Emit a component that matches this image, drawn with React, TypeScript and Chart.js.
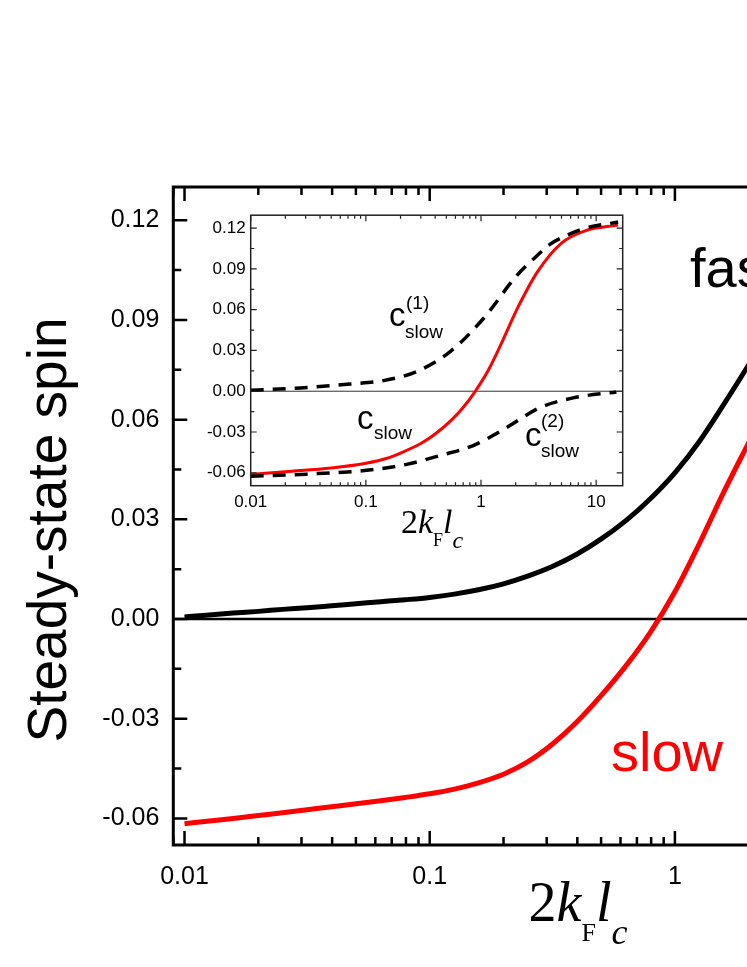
import React, { useEffect, useRef } from "react";
import { Chart, registerables } from "chart.js";

Chart.register(...registerables);

const SANS = "'Liberation Sans', Arial, sans-serif";
const SERIF = "'Liberation Serif', 'Times New Roman', serif";

// ---------- main panel data ----------
const mainX = [0.01, 0.0126, 0.0158, 0.02, 0.0251, 0.0316, 0.0398, 0.0501, 0.0631, 0.0794, 0.1, 0.126, 0.158, 0.2, 0.251, 0.316, 0.398, 0.501, 0.631, 0.794, 1.0, 1.26, 1.58, 2.0, 2.51, 3.16, 3.98, 6.31, 10, 15.8];
const mainFastY = [0.0006, 0.0012, 0.0018, 0.0023, 0.0029, 0.0034, 0.004, 0.0046, 0.0052, 0.0058, 0.0065, 0.0075, 0.0088, 0.0106, 0.0129, 0.0158, 0.0195, 0.0241, 0.0296, 0.0362, 0.044, 0.0535, 0.0645, 0.0765, 0.0885, 0.0985, 0.106, 0.115, 0.119, 0.121];
const mainSlowY = [-0.0616, -0.0608, -0.06, -0.0591, -0.0583, -0.0574, -0.0565, -0.0556, -0.0547, -0.0537, -0.0526, -0.0512, -0.0493, -0.0467, -0.043, -0.0377, -0.031, -0.0230, -0.0141, -0.004, 0.0082, 0.0228, 0.0381, 0.0531, 0.0675, 0.081, 0.092, 0.107, 0.115, 0.119];

// ---------- inset data ----------
const insetSlowX = [0.01, 0.02, 0.05, 0.1, 0.15, 0.2, 0.3, 0.4, 0.55, 0.7, 0.9, 1.15, 1.5, 2.1, 3.1, 5.0, 8.0, 15.5];
const insetSlowY = [-0.0613, -0.0592, -0.0565, -0.053, -0.0495, -0.0455, -0.0385, -0.0315, -0.0215, -0.012, 0.0005, 0.015, 0.035, 0.062, 0.088, 0.109, 0.118, 0.1222];
const insetC1X = [0.01, 0.027, 0.073, 0.142, 0.276, 0.537, 1.045, 2.04, 3.0, 3.96, 5.5, 7.7, 15.5];
const insetC1Y = [0.0007, 0.0024, 0.0053, 0.0078, 0.0145, 0.029, 0.0533, 0.085, 0.099, 0.108, 0.1145, 0.1195, 0.1245];
const insetC2X = [0.01, 0.0306, 0.1016, 0.226, 0.44, 0.855, 1.67, 3.24, 6.3, 15.0];
const insetC2Y = [-0.0625, -0.061, -0.0582, -0.0538, -0.0473, -0.04, -0.0267, -0.0121, -0.0049, -0.0005];

// ---------- ticks ----------
const yTickValues = [-0.06, -0.03, 0, 0.03, 0.06, 0.09, 0.12];
const xTickValues = [0.01, 0.1, 1, 10];

const MAIN_W = 1000;
const MAIN_H = 967;
const INSET_LEFT = 180;
const INSET_TOP = 200;
const INSET_W = 460;
const INSET_H = 360;

const toPts = (xs: number[], ys: number[]) => xs.map((x, i) => ({ x, y: ys[i] }));

const framePlugin = {
  id: "frame",
  beforeDraw(chart: any, _a: any, opts: any) {
    if (!opts.whiteFill) return;
    const { ctx, chartArea } = chart;
    ctx.save();
    ctx.fillStyle = "#fff";
    ctx.fillRect(chartArea.left, chartArea.top, chartArea.right - chartArea.left, chartArea.bottom - chartArea.top);
    ctx.restore();
  },
  beforeDatasetsDraw(chart: any, _a: any, opts: any) {
    const { ctx, chartArea, scales } = chart;
    const y0 = scales.y.getPixelForValue(0);
    ctx.save();
    ctx.strokeStyle = opts.zeroColor;
    ctx.lineWidth = opts.zeroWidth;
    ctx.beginPath();
    ctx.moveTo(chartArea.left, y0);
    ctx.lineTo(chartArea.right, y0);
    ctx.stroke();
    ctx.restore();
  },
  afterDatasetsDraw(chart: any, _a: any, opts: any) {
    const { ctx, chartArea, scales } = chart;
    const { left, right, top, bottom } = chartArea;
    const xs = scales.x;
    const ys = scales.y;
    ctx.save();
    ctx.strokeStyle = opts.color;
    ctx.lineWidth = opts.tickWidth;
    ctx.beginPath();
    const lo = Math.floor(Math.log10(xs.min));
    const hi = Math.ceil(Math.log10(xs.max));
    for (let d = lo; d <= hi; d++) {
      for (let m = 1; m <= 9; m++) {
        const v = m * Math.pow(10, d);
        if (v < xs.min || v > xs.max) continue;
        const px = xs.getPixelForValue(v);
        const len = m === 1 ? opts.majorLen : opts.minorLen;
        ctx.moveTo(px, bottom);
        ctx.lineTo(px, bottom - len);
        ctx.moveTo(px, top);
        ctx.lineTo(px, top + len);
      }
    }
    const step = 0.03;
    for (let k = -10; k <= 10; k++) {
      const pairs: [number, number][] = [[k * step, opts.majorLen], [k * step + step / 2, opts.minorLen]];
      pairs.forEach(([v, len]) => {
        if (v < ys.min || v > ys.max) return;
        const py = ys.getPixelForValue(v);
        ctx.moveTo(left, py);
        ctx.lineTo(left + len, py);
        ctx.moveTo(right, py);
        ctx.lineTo(right - len, py);
      });
    }
    ctx.stroke();
    ctx.lineWidth = opts.frameWidth;
    ctx.strokeRect(left, top, right - left, bottom - top);
    ctx.restore();
  },
};

type Run = { text: string; font: string; dy?: number };
type TextItem = {
  text?: string;
  runs?: Run[];
  x: number;
  y: number;
  font?: string;
  color?: string;
  rotate?: number;
  align?: CanvasTextAlign;
};

const textPlugin = {
  id: "texts",
  afterDraw(chart: any, _a: any, opts: any) {
    const { ctx } = chart;
    (opts.items as TextItem[]).forEach((it) => {
      ctx.save();
      ctx.fillStyle = it.color || "#000";
      ctx.textBaseline = "alphabetic";
      if (it.runs) {
        let total = 0;
        it.runs.forEach((r) => {
          ctx.font = r.font;
          total += ctx.measureText(r.text).width;
        });
        let x = it.x - total / 2;
        ctx.textAlign = "left";
        it.runs.forEach((r) => {
          ctx.font = r.font;
          ctx.fillText(r.text, x, it.y + (r.dy || 0));
          x += ctx.measureText(r.text).width;
        });
      } else {
        ctx.font = it.font;
        ctx.textAlign = it.align || "left";
        ctx.translate(it.x, it.y);
        if (it.rotate) ctx.rotate(it.rotate);
        ctx.fillText(it.text, 0, 0);
      }
      ctx.restore();
    });
  },
};

function titleRuns(big: number, sub1: number, sub2: number, d1: number, d2: number): Run[] {
  return [
    { text: "2", font: `${big}px ${SERIF}` },
    { text: "k", font: `italic ${big}px ${SERIF}` },
    { text: "F", font: `${sub1}px ${SERIF}`, dy: d1 },
    { text: "l", font: `italic ${big}px ${SERIF}` },
    { text: "c", font: `italic ${sub2}px ${SERIF}`, dy: d2 },
  ];
}

function mainLabels(): TextItem[] {
  return [
    { text: "Steady-state spin", x: 66, y: 530, font: `55px ${SANS}`, rotate: -Math.PI / 2, align: "center" },
    { text: "fast", x: 690, y: 287, font: `56px ${SANS}` },
    { text: "slow", x: 611, y: 771, font: `56px ${SANS}`, color: "#ff0000" },
    { runs: titleRuns(56, 26, 36, 20, 23), x: 578, y: 921 },
  ];
}

function insetLabels(): TextItem[] {
  const o = (x: number, y: number) => ({ x: x - INSET_LEFT, y: y - INSET_TOP });
  const big = `33px ${SANS}`;
  const small = `19px ${SANS}`;
  return [
    { text: "c", ...o(389, 326), font: big },
    { text: "(1)", ...o(406, 309), font: small },
    { text: "slow", ...o(405, 338), font: small },
    { text: "c", ...o(357, 429), font: big },
    { text: "slow", ...o(374, 439), font: small },
    { text: "c", ...o(525, 446), font: big },
    { text: "(2)", ...o(541, 427), font: small },
    { text: "slow", ...o(541, 457), font: small },
    { runs: titleRuns(34, 18, 24, 13, 15), ...o(432, 533) },
  ];
}

function axisScales(opts: {
  xmin: number; xmax: number; ymin: number; ymax: number;
  font: number; xPad: number; yPad: number; yWidth: number; xHeight: number;
}) {
  return {
    x: {
      type: "logarithmic",
      min: opts.xmin,
      max: opts.xmax,
      grid: { display: false, drawTicks: false },
      border: { display: false },
      ticks: {
        color: "#000",
        font: { family: SANS, size: opts.font },
        padding: opts.xPad,
        autoSkip: false,
        maxRotation: 0,
        callback: (v: any) => String(v),
      },
      afterBuildTicks: (s: any) => {
        s.ticks = xTickValues.map((v) => ({ value: v }));
      },
      afterFit: (s: any) => {
        s.height = opts.xHeight;
      },
    },
    y: {
      type: "linear",
      min: opts.ymin,
      max: opts.ymax,
      grid: { display: false, drawTicks: false },
      border: { display: false },
      ticks: {
        color: "#000",
        font: { family: SANS, size: opts.font },
        padding: opts.yPad,
        callback: (v: any) => Number(v).toFixed(2),
      },
      afterBuildTicks: (s: any) => {
        s.ticks = yTickValues.map((v) => ({ value: v }));
      },
      afterFit: (s: any) => {
        s.width = opts.yWidth;
      },
    },
  };
}

const lineDs = (xs: number[], ys: number[], color: string, width: number, dash?: number[]) => ({
  data: toPts(xs, ys),
  borderColor: color,
  borderWidth: width,
  borderDash: dash || [],
  pointRadius: 0,
  fill: false,
  cubicInterpolationMode: "monotone",
});

export default function App() {
  const mainRef = useRef<HTMLCanvasElement>(null);
  const insetRef = useRef<HTMLCanvasElement>(null);

  useEffect(() => {
    const main = new Chart(mainRef.current as HTMLCanvasElement, {
      type: "line",
      data: {
        datasets: [
          lineDs(mainX, mainFastY, "#000", 5),
          lineDs(mainX, mainSlowY, "#ff0000", 5),
        ],
      } as any,
      options: {
        responsive: false,
        animation: false,
        devicePixelRatio: 1,
        parsing: false,
        layout: { padding: { left: 0, top: 187, right: MAIN_W - 976.6, bottom: 0 } },
        plugins: {
          legend: { display: false },
          tooltip: { enabled: false },
          frame: { color: "#000", tickWidth: 2.5, frameWidth: 3, majorLen: 14, minorLen: 8, zeroWidth: 2.5, zeroColor: "#000" },
          texts: { items: mainLabels() },
        } as any,
        scales: axisScales({ xmin: 0.009, xmax: 17, ymin: -0.068, ymax: 0.13, font: 25, xPad: 17, yPad: 14, yWidth: 173.3, xHeight: MAIN_H - 845 }) as any,
      },
      plugins: [framePlugin, textPlugin],
    });

    const inset = new Chart(insetRef.current as HTMLCanvasElement, {
      type: "line",
      data: {
        datasets: [
          lineDs(insetC1X, insetC1Y, "#000", 3.5, [13, 9]),
          lineDs(insetC2X, insetC2Y, "#000", 3.5, [13, 9]),
          lineDs(insetSlowX, insetSlowY, "#ff0000", 3),
        ],
      } as any,
      options: {
        responsive: false,
        animation: false,
        devicePixelRatio: 1,
        parsing: false,
        layout: { padding: { left: 0, top: 211.7 - INSET_TOP, right: INSET_W - (622.7 - INSET_LEFT), bottom: 0 } },
        plugins: {
          legend: { display: false },
          tooltip: { enabled: false },
          frame: { color: "#222", tickWidth: 1.2, frameWidth: 1.5, majorLen: 6, minorLen: 3.5, zeroWidth: 1, zeroColor: "#333", whiteFill: true },
          texts: { items: insetLabels() },
        } as any,
        scales: axisScales({ xmin: 0.01, xmax: 17, ymin: -0.0695, ymax: 0.1295, font: 17, xPad: 6, yPad: 5, yWidth: 250.7 - INSET_LEFT, xHeight: INSET_H - (485.7 - INSET_TOP) }) as any,
      },
      plugins: [framePlugin, textPlugin],
    });

    return () => {
      main.destroy();
      inset.destroy();
    };
  }, []);

  return (
    <div style={{ position: "absolute", left: 0, top: 0, width: 747, height: 967, overflow: "hidden", background: "#fff" }}>
      <canvas ref={mainRef} width={MAIN_W} height={MAIN_H} style={{ position: "absolute", left: 0, top: 0, width: MAIN_W, height: MAIN_H }} />
      <canvas ref={insetRef} width={INSET_W} height={INSET_H} style={{ position: "absolute", left: INSET_LEFT, top: INSET_TOP, width: INSET_W, height: INSET_H }} />
    </div>
  );
}
